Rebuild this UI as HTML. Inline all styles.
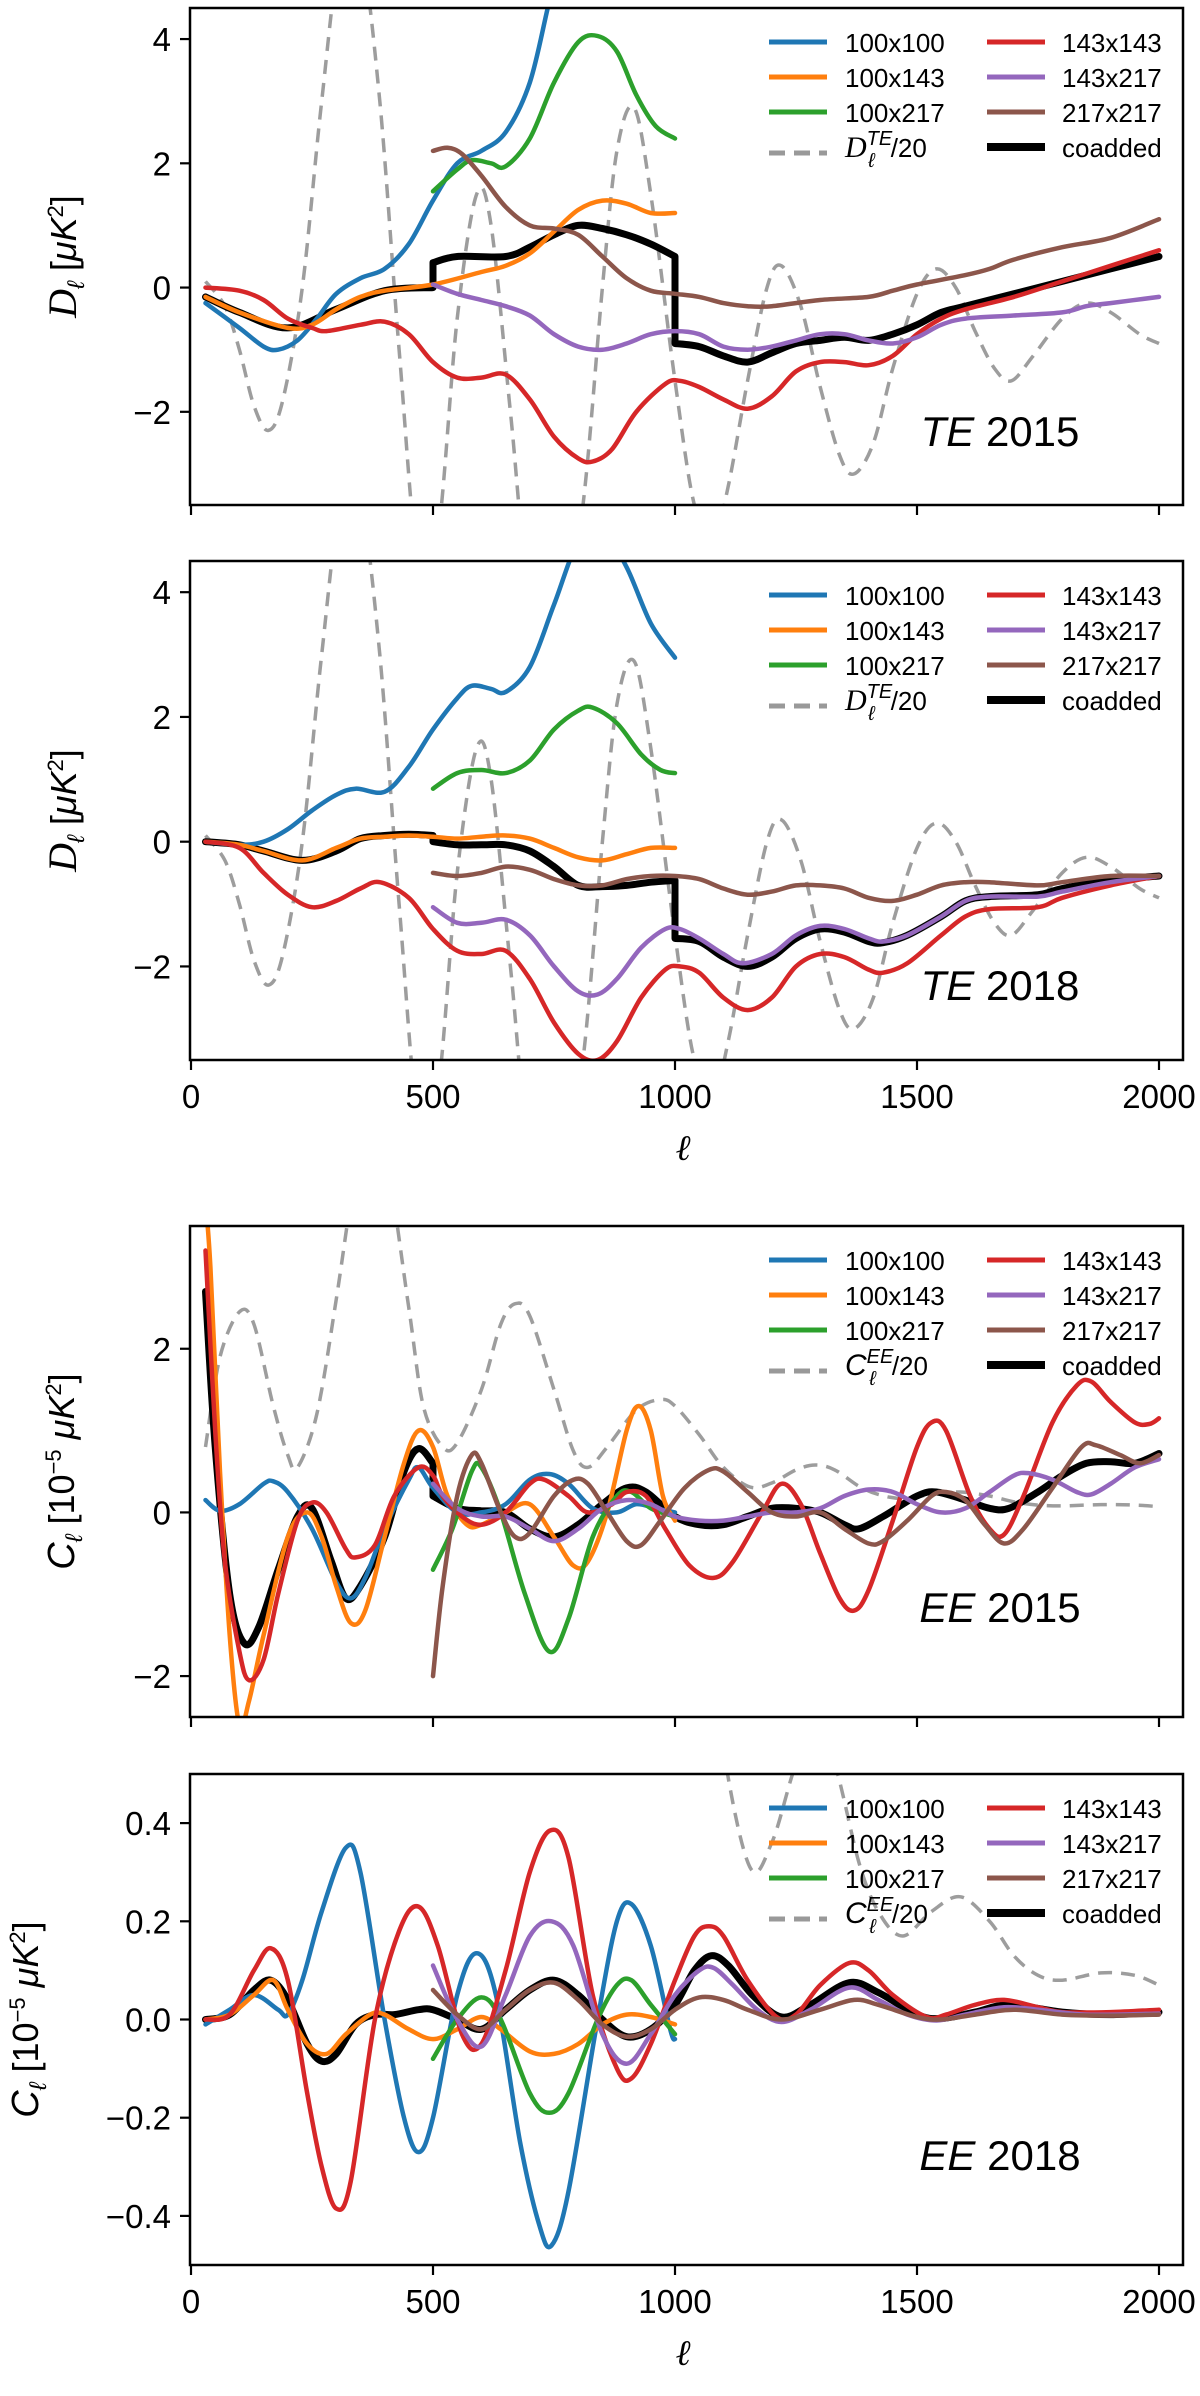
<!DOCTYPE html>
<html><head><meta charset="utf-8"><style>
html,body{margin:0;padding:0;background:#fff;}
svg{display:block;font-family:"Liberation Sans","DejaVu Sans",sans-serif;}
</style></head><body>
<svg id="fig" width="1200" height="2396" viewBox="0 0 1200 2396" xmlns="http://www.w3.org/2000/svg"></svg>
<script>
// ---------- shared theory curves ----------
const teTheoryL=[30,70,100,130,160,190,230,270,310,350,390,430,470,510,550,590,620,660,700,760,810,850,880,915,950,1000,1040,1080,1110,1150,1190,1220,1260,1300,1340,1370,1410,1450,1500,1540,1580,1620,1660,1695,1740,1800,1850,1900,1960,2000];
const teTheoryV=[0.1,-0.3,-1.0,-1.9,-2.3,-1.8,0.0,3.0,5.5,5.5,3.0,-1.0,-4.5,-4.0,-0.5,1.5,1.0,-2.0,-5,-6,-3.5,0.0,2.2,2.9,1.5,-1.5,-3.5,-4,-3.2,-1.5,0.0,0.35,-0.3,-1.6,-2.7,-3.0,-2.5,-1.3,-0.1,0.3,0.0,-0.7,-1.3,-1.5,-1.1,-0.5,-0.25,-0.4,-0.75,-0.9];
const eeTheoryL=[30,60,100,130,170,200,220,260,300,330,365,400,450,480,520,550,600,640,670,700,750,790,820,860,920,970,1000,1050,1100,1155,1200,1250,1290,1330,1380,1420,1470,1530,1590,1650,1700,1750,1800,1880,1950,2000];
const eeTheoryV=[0.8,1.9,2.45,2.3,1.3,0.7,0.55,1.2,2.6,3.8,5.0,4.5,2.5,1.3,0.8,0.85,1.5,2.3,2.55,2.4,1.5,0.75,0.55,0.8,1.25,1.38,1.3,0.95,0.55,0.31,0.36,0.52,0.58,0.52,0.32,0.22,0.17,0.22,0.25,0.2,0.13,0.09,0.08,0.095,0.09,0.07];

// ---------- Panel 1: TE 2015 ----------
const p1BlueL=[30,100,150,180,220,260,300,350,400,450,500,550,600,650,700,740,770];
const p1BlueV=[-0.25,-0.65,-0.95,-1.0,-0.85,-0.5,-0.1,0.15,0.3,0.7,1.4,2.0,2.2,2.5,3.3,4.6,5.5];
const p1OrangeL=[30,100,200,250,300,350,400,500,600,650,700,750,800,850,900,950,1000];
const p1OrangeV=[-0.15,-0.4,-0.65,-0.6,-0.35,-0.15,-0.05,0.05,0.25,0.35,0.55,0.9,1.25,1.4,1.35,1.2,1.2];
const p1GreenL=[500,550,580,620,650,700,750,800,840,880,920,960,1000];
const p1GreenV=[1.55,1.9,2.05,2.0,1.95,2.4,3.3,3.95,4.05,3.8,3.1,2.6,2.4];
const p1RedL=[30,100,150,200,250,280,350,400,450,500,550,600,650,700,750,800,830,870,920,980,1010,1050,1100,1150,1200,1250,1300,1350,1400,1450,1500,1550,1600,1700,1800,1900,2000];
const p1RedV=[0.0,-0.05,-0.2,-0.5,-0.65,-0.7,-0.6,-0.55,-0.75,-1.2,-1.45,-1.45,-1.4,-1.8,-2.4,-2.75,-2.8,-2.6,-2.0,-1.55,-1.5,-1.6,-1.8,-1.95,-1.75,-1.35,-1.2,-1.2,-1.25,-1.1,-0.75,-0.5,-0.35,-0.15,0.1,0.35,0.6];
const p1PurpleL=[500,550,600,650,700,750,800,850,900,950,1000,1050,1100,1150,1200,1250,1300,1350,1400,1450,1500,1550,1600,1700,1800,1850,1900,2000];
const p1PurpleV=[0.05,-0.1,-0.2,-0.3,-0.45,-0.75,-0.95,-1.0,-0.9,-0.75,-0.7,-0.75,-0.95,-1.0,-0.95,-0.85,-0.75,-0.75,-0.85,-0.9,-0.8,-0.6,-0.5,-0.45,-0.4,-0.3,-0.25,-0.15];
const p1BrownL=[500,530,560,600,650,700,750,800,850,900,950,1000,1050,1100,1150,1200,1300,1400,1450,1500,1600,1650,1700,1800,1900,2000];
const p1BrownV=[2.2,2.25,2.15,1.8,1.3,1.0,0.95,0.85,0.5,0.15,-0.05,-0.1,-0.15,-0.25,-0.3,-0.3,-0.2,-0.15,-0.05,0.05,0.2,0.3,0.45,0.65,0.8,1.1];
const p1BlackL=[30,100,200,300,400,500,500,550,650,700,750,800,850,900,950,1000,1000,1050,1100,1150,1200,1250,1300,1350,1400,1450,1500,1550,1600,1700,1800,1900,2000];
const p1BlackV=[-0.15,-0.4,-0.65,-0.35,-0.05,0.0,0.4,0.5,0.5,0.65,0.85,1.0,0.95,0.85,0.7,0.5,-0.9,-0.95,-1.1,-1.2,-1.05,-0.9,-0.85,-0.8,-0.85,-0.75,-0.6,-0.4,-0.3,-0.1,0.1,0.3,0.5];

// ---------- Panel 2: TE 2018 ----------
const p2BlueL=[30,100,150,200,250,300,340,400,450,500,550,580,620,650,700,750,800,850,900,950,1000];
const p2BlueV=[0,-0.05,0.0,0.2,0.5,0.75,0.85,0.8,1.2,1.8,2.3,2.5,2.45,2.4,2.8,3.8,4.8,5.0,4.4,3.5,2.95];
const p2OrangeL=[30,100,150,230,300,350,400,450,500,550,600,650,700,750,800,850,900,950,1000];
const p2OrangeV=[0,-0.05,-0.15,-0.3,-0.1,0.05,0.08,0.1,0.08,0.05,0.08,0.1,0.05,-0.1,-0.25,-0.3,-0.2,-0.1,-0.1];
const p2GreenL=[500,550,600,650,700,750,800,830,880,930,970,1000];
const p2GreenV=[0.85,1.1,1.15,1.1,1.3,1.8,2.1,2.15,1.9,1.4,1.15,1.1];
const p2RedL=[30,100,150,200,250,300,350,390,450,500,550,600,650,700,750,800,840,880,930,980,1010,1050,1100,1150,1200,1250,1300,1350,1400,1430,1480,1550,1600,1650,1750,1800,1900,2000];
const p2RedV=[0,-0.1,-0.5,-0.85,-1.05,-0.95,-0.75,-0.65,-0.9,-1.4,-1.75,-1.8,-1.75,-2.2,-2.9,-3.4,-3.5,-3.2,-2.5,-2.05,-2.0,-2.1,-2.5,-2.7,-2.5,-2.0,-1.8,-1.85,-2.05,-2.1,-1.95,-1.5,-1.2,-1.08,-1.05,-0.9,-0.7,-0.55];
const p2PurpleL=[500,550,600,650,700,750,800,840,880,930,980,1010,1050,1100,1140,1200,1250,1300,1350,1400,1430,1480,1550,1600,1650,1750,1800,1900,2000];
const p2PurpleV=[-1.05,-1.3,-1.3,-1.25,-1.5,-2.0,-2.4,-2.45,-2.2,-1.7,-1.4,-1.4,-1.55,-1.8,-1.95,-1.8,-1.5,-1.35,-1.4,-1.55,-1.6,-1.5,-1.2,-0.95,-0.88,-0.88,-0.8,-0.65,-0.55];
const p2BrownL=[500,550,600,650,700,750,800,850,900,950,1000,1050,1100,1150,1200,1250,1300,1350,1400,1450,1500,1550,1600,1650,1750,1800,1900,2000];
const p2BrownV=[-0.5,-0.55,-0.5,-0.4,-0.45,-0.6,-0.7,-0.7,-0.6,-0.55,-0.55,-0.6,-0.75,-0.85,-0.8,-0.7,-0.7,-0.75,-0.9,-0.95,-0.85,-0.7,-0.65,-0.65,-0.7,-0.65,-0.55,-0.55];
const p2BlackL=[30,100,150,230,300,350,400,450,500,500,550,600,650,700,750,800,850,900,950,1000,1000,1050,1100,1150,1200,1250,1300,1350,1400,1430,1480,1550,1600,1650,1750,1800,1900,2000];
const p2BlackV=[0,-0.05,-0.15,-0.3,-0.15,0.05,0.1,0.12,0.1,0.0,-0.05,-0.05,-0.05,-0.15,-0.4,-0.7,-0.72,-0.7,-0.65,-0.62,-1.55,-1.6,-1.85,-2.0,-1.85,-1.55,-1.4,-1.45,-1.6,-1.62,-1.5,-1.2,-0.95,-0.88,-0.85,-0.75,-0.62,-0.55];

// ---------- Panel 3: EE 2015 ----------
const p3BlueL=[30,60,100,150,170,200,250,300,330,360,400,450,470,500,550,600,650,700,740,780,830,880,920,960,1000];
const p3BlueV=[0.15,0.02,0.1,0.35,0.38,0.25,-0.2,-0.85,-1.05,-0.8,-0.2,0.4,0.55,0.3,0.0,0.0,0.1,0.4,0.47,0.35,0.05,0.0,0.1,0.05,0.0];
const p3OrangeL=[30,40,60,80,100,120,150,200,240,270,300,330,360,400,440,470,500,530,570,600,650,700,750,790,820,860,900,925,950,975,1000];
const p3OrangeV=[3.8,3.0,0.5,-1.5,-2.6,-2.3,-1.5,-0.3,0.0,-0.3,-0.9,-1.35,-1.2,-0.3,0.6,1.0,0.8,0.2,-0.15,-0.15,0.0,0.1,-0.3,-0.65,-0.6,0.0,1.0,1.3,1.0,0.2,-0.1];
const p3GreenL=[500,540,580,600,640,690,740,780,830,880,910,950,1000];
const p3GreenV=[-0.7,-0.2,0.5,0.55,0.0,-1.0,-1.7,-1.3,-0.3,0.2,0.25,0.05,-0.05];
const p3RedL=[30,50,70,100,120,150,180,220,250,280,320,340,380,420,470,500,520,560,600,650,700,730,780,820,870,900,940,980,1030,1080,1120,1180,1220,1260,1300,1340,1370,1400,1450,1500,1530,1560,1610,1650,1680,1720,1780,1830,1860,1900,1950,1980,2000];
const p3RedV=[3.2,1.0,-0.6,-1.7,-2.05,-1.8,-1.0,-0.1,0.12,0.0,-0.45,-0.55,-0.4,0.2,0.55,0.45,0.2,-0.05,-0.15,0.0,0.35,0.4,0.2,0.0,0.1,0.25,0.2,-0.2,-0.65,-0.8,-0.6,0.0,0.35,0.1,-0.5,-1.05,-1.2,-0.95,-0.1,0.8,1.1,1.0,0.2,-0.2,-0.27,0.2,1.1,1.55,1.6,1.35,1.1,1.08,1.15];
const p3PurpleL=[500,550,600,650,700,750,800,850,900,950,1000,1050,1100,1150,1200,1250,1300,1350,1400,1450,1500,1550,1600,1650,1700,1730,1780,1830,1860,1900,1950,2000];
const p3PurpleV=[0.35,0.05,-0.05,-0.05,-0.2,-0.35,-0.2,0.05,0.15,0.1,-0.05,-0.1,-0.1,-0.05,0.0,0.0,0.05,0.2,0.28,0.25,0.1,0.0,0.05,0.25,0.45,0.48,0.4,0.25,0.22,0.35,0.55,0.65];
const p3BrownL=[500,520,550,580,600,640,670,700,750,790,820,860,900,930,970,1020,1070,1100,1150,1200,1250,1300,1350,1400,1430,1480,1530,1560,1600,1640,1680,1720,1780,1840,1870,1920,1960,2000];
const p3BrownV=[-2.0,-0.9,0.2,0.7,0.6,0.0,-0.3,-0.25,0.2,0.4,0.35,0.0,-0.35,-0.4,-0.1,0.3,0.52,0.5,0.25,0.0,-0.05,0.0,-0.2,-0.38,-0.35,-0.1,0.2,0.25,0.15,-0.15,-0.38,-0.2,0.3,0.8,0.82,0.7,0.6,0.7];
const p3BlackL=[30,50,80,110,140,180,220,250,290,320,350,400,440,470,500,500,550,600,650,700,750,800,850,900,940,1000,1050,1100,1150,1200,1250,1300,1350,1380,1430,1500,1540,1600,1650,1690,1750,1800,1850,1900,1950,2000];
const p3BlackV=[2.7,0.8,-1.0,-1.6,-1.4,-0.7,-0.05,0.05,-0.6,-1.05,-0.9,-0.3,0.5,0.78,0.6,0.2,0.05,0.02,0.0,-0.2,-0.3,-0.15,0.1,0.3,0.25,-0.05,-0.15,-0.15,-0.05,0.05,0.05,0.0,-0.15,-0.2,-0.05,0.2,0.25,0.15,0.05,0.05,0.25,0.45,0.6,0.62,0.6,0.72];

// ---------- Panel 4: EE 2018 ----------
const p4BlueL=[30,80,130,180,200,230,270,320,350,400,440,470,500,550,590,630,680,720,745,780,840,880,910,950,990,1000];
const p4BlueV=[-0.01,0.02,0.05,0.02,0.01,0.08,0.22,0.35,0.3,0.0,-0.2,-0.27,-0.2,0.05,0.135,0.05,-0.25,-0.42,-0.46,-0.35,0.0,0.2,0.235,0.15,-0.02,-0.04];
const p4OrangeL=[30,80,130,170,200,240,280,320,370,400,450,500,550,600,640,700,750,800,850,900,950,1000];
const p4OrangeV=[0.0,0.01,0.05,0.08,0.02,-0.05,-0.07,-0.03,0.01,0.01,-0.02,-0.04,-0.02,0.005,-0.02,-0.065,-0.07,-0.05,-0.01,0.01,0.005,-0.01];
const p4GreenL=[500,550,600,640,700,740,780,840,880,910,950,1000];
const p4GreenV=[-0.08,0.0,0.045,0.0,-0.15,-0.19,-0.15,0.0,0.07,0.08,0.03,-0.03];
const p4RedL=[30,80,130,165,200,240,270,300,330,380,430,470,510,560,600,650,700,742,780,830,880,910,950,1000,1040,1070,1100,1150,1210,1250,1300,1360,1400,1450,1520,1560,1620,1680,1750,1800,1900,2000];
const p4RedV=[0.0,0.01,0.1,0.145,0.08,-0.15,-0.3,-0.385,-0.33,0.0,0.18,0.23,0.15,-0.03,-0.05,0.1,0.3,0.385,0.33,0.05,-0.1,-0.12,-0.05,0.08,0.17,0.19,0.17,0.08,0.005,0.01,0.07,0.115,0.1,0.05,0.005,0.01,0.03,0.04,0.025,0.015,0.015,0.02];
const p4PurpleL=[500,550,600,650,700,745,790,850,900,950,1000,1050,1080,1120,1170,1220,1280,1360,1420,1480,1540,1600,1680,1750,1850,2000];
const p4PurpleV=[0.11,0.0,-0.055,0.05,0.17,0.2,0.15,-0.03,-0.09,-0.03,0.05,0.1,0.105,0.07,0.02,-0.005,0.02,0.065,0.04,0.01,-0.002,0.01,0.025,0.02,0.01,0.012];
const p4BrownL=[500,550,600,650,700,750,800,850,900,950,1000,1050,1100,1150,1220,1300,1370,1420,1500,1550,1620,1700,1800,1900,2000];
const p4BrownV=[0.06,0.01,-0.02,0.02,0.06,0.075,0.04,-0.01,-0.035,-0.02,0.02,0.045,0.04,0.02,0.0,0.02,0.04,0.03,0.005,0.0,0.01,0.02,0.01,0.008,0.01];
const p4BlackL=[30,80,130,165,200,240,270,300,340,380,420,470,500,550,600,650,700,750,800,850,900,950,1000,1040,1075,1110,1160,1220,1280,1360,1420,1500,1550,1620,1690,1800,1900,2000];
const p4BlackV=[0.0,0.01,0.06,0.08,0.04,-0.05,-0.085,-0.07,-0.01,0.01,0.01,0.02,0.02,0.0,-0.02,0.02,0.06,0.08,0.05,0.0,-0.035,-0.02,0.03,0.1,0.13,0.11,0.05,0.005,0.03,0.075,0.055,0.01,0.002,0.015,0.03,0.015,0.01,0.015];

const xTicks=[0,500,1000,1500,2000];
const teYTicks=[-2,0,2,4];
const teYLabels=["\u22122","0","2","4"];
const ee15YTicks=[-2,0,2];
const ee15YLabels=["\u22122","0","2"];
const ee18YTicks=[-0.4,-0.2,0.0,0.2,0.4];
const ee18YLabels=["\u22120.4","\u22120.2","0.0","0.2","0.4"];
const seriesNames=["100x100","100x143","100x217","143x143","143x217","217x217","coadded"];

const NS="http://www.w3.org/2000/svg";
const svg=document.getElementById('fig');
const COLORS={b:"#1f77b4",o:"#ff7f0e",g:"#2ca02c",r:"#d62728",p:"#9467bd",n:"#8c564b",k:"#000"};
function mk(tag,attrs,parent){const e=document.createElementNS(NS,tag);for(const k in attrs)e.setAttribute(k,attrs[k]);(parent||svg).appendChild(e);return e;}

const X0=191, XK=(1159-191)/2000;
function xs(l){return X0+l*XK;}

function pathFor(L,V,ys){
  const segs=[];let cur=[];
  for(let i=0;i<L.length;i++){
    if(cur.length&&L[i]===cur[cur.length-1][0]){segs.push(cur);cur=[];}
    cur.push([L[i],V[i]]);
  }
  segs.push(cur);
  let d="";
  segs.forEach((s,si)=>{
    const pts=s.map(p=>[xs(p[0]),ys(p[1])]);
    let sd=(si===0?"M":"L")+pts[0][0].toFixed(1)+","+pts[0][1].toFixed(1);
    for(let i=0;i<pts.length-1;i++){
      const p0=pts[Math.max(0,i-1)],p1=pts[i],p2=pts[i+1],p3=pts[Math.min(pts.length-1,i+2)];
      const c1=[p1[0]+(p2[0]-p0[0])/6,p1[1]+(p2[1]-p0[1])/6];
      const c2=[p2[0]-(p3[0]-p1[0])/6,p2[1]-(p3[1]-p1[1])/6];
      sd+="C"+c1[0].toFixed(1)+","+c1[1].toFixed(1)+" "+c2[0].toFixed(1)+","+c2[1].toFixed(1)+" "+p2[0].toFixed(1)+","+p2[1].toFixed(1);
    }
    d+=sd;
  });
  return d;
}

function panel(cfg){
  const {id,top,bot,ymin,ymax,yticks,ylabels,showX,series,ylabX,ylab,annot,annotY,theoryName}=cfg;
  const g=mk('g',{},svg);
  
  
  const ys=v=>bot-(v-ymin)/(ymax-ymin)*(bot-top);
  const cid='clip-'+id;
  const cp=mk('clipPath',{id:cid},g);mk('rect',{x:X0-1,y:top,width:1183-X0+1,height:bot-top},cp);
  const plot=mk('g',{'clip-path':'url(#'+cid+')'},g);
  
  
  series.forEach(s=>{
    const p=mk('path',{d:pathFor(s.L,s.V,ys),fill:'none',stroke:s.c,'stroke-width':s.w,'stroke-linejoin':'round','stroke-linecap':s.dash?'butt':'round'},plot);
    if(s.dash){p.setAttribute('stroke-dasharray',s.dash);p.setAttribute('opacity','0.85');}
    
    
  });
  const fr=mk('rect',{x:X0-1,y:top,width:1183-X0+1,height:bot-top,fill:'none',stroke:'#000','stroke-width':2.5},g);
  
  
  xTicks.forEach(t=>{
    const tk=mk('line',{x1:xs(t),x2:xs(t),y1:bot,y2:bot+10,stroke:'#000','stroke-width':2.2},g);
    
    
    if(showX){
      const tl=mk('text',{x:xs(t),y:bot+48,'font-size':33,'text-anchor':'middle',fill:'#000'},g);
      tl.textContent=t;
      
      
    }
  });
  if(showX){
    const xl=mk('text',{x:xs(1000)+8,y:bot+100,'font-size':36,'font-style':'italic','text-anchor':'middle',fill:'#000','font-family':'"Liberation Serif",serif'},g);
    xl.textContent='\u2113';
    
    
  }
  yticks.forEach((t,i)=>{
    const tk=mk('line',{x1:X0-11,x2:X0,y1:ys(t),y2:ys(t),stroke:'#000','stroke-width':2.2},g);
    
    
    const tl=mk('text',{x:X0-20,y:ys(t)+12,'font-size':33,'text-anchor':'end',fill:'#000'},g);
    tl.textContent=ylabels[i];
    
    
  });
  const cy=(top+bot)/2;
  const yl=mk('text',{x:ylabX,y:cy,'font-size':36,'text-anchor':'middle',fill:'#000',transform:'rotate(-90 '+ylabX+' '+cy+')'},g);
  yl.innerHTML=ylab;
  
  
  const an=mk('text',{x:1000,y:annotY,'font-size':42,'text-anchor':'middle',fill:'#000'},g);
  an.innerHTML='<tspan font-style="italic">'+annot[0]+'</tspan> '+annot[1];
  
  
  const lg=mk('g',{},g);
  
  
  const rows=[34,69,104,139];
  const entries=[
    {n:seriesNames[0],c:COLORS.b,col:0,row:0},{n:seriesNames[1],c:COLORS.o,col:0,row:1},{n:seriesNames[2],c:COLORS.g,col:0,row:2},{n:theoryName,c:'#999',col:0,row:3,dash:true},
    {n:seriesNames[3],c:COLORS.r,col:1,row:0},{n:seriesNames[4],c:COLORS.p,col:1,row:1},{n:seriesNames[5],c:COLORS.n,col:1,row:2},{n:seriesNames[6],c:'#000',col:1,row:3,thick:true}];
  entries.forEach(e=>{
    const lx=e.col?987:769, tx=e.col?1062:845, yy=top+rows[e.row];
    const ln=mk('line',{x1:lx,x2:lx+58,y1:yy+(e.dash?6:0),y2:yy+(e.dash?6:0),stroke:e.c,'stroke-width':e.thick?8:5},lg);
    if(e.dash)ln.setAttribute('stroke-dasharray','16,9');
    
    
    const tt=mk('text',{x:tx,y:yy+10,'font-size':26,fill:'#000'},lg);
    tt.innerHTML=e.n;
    
    
  });
}

const teTh='<tspan font-style="italic" font-family="Liberation Serif,serif" font-size="30">D</tspan><tspan font-style="italic" font-size="20" dy="-12">TE</tspan><tspan font-style="italic" font-size="20" dx="-24" dy="22">\u2113</tspan><tspan dx="16" dy="-10">/20</tspan>';
const eeTh='<tspan font-style="italic" font-size="30">C</tspan><tspan font-style="italic" font-size="20" dy="-12">EE</tspan><tspan font-style="italic" font-size="20" dx="-24" dy="22">\u2113</tspan><tspan dx="16" dy="-10">/20</tspan>';
const teYlab='<tspan font-style="italic" font-family="Liberation Serif,serif" font-size="40">D</tspan><tspan font-size="24" font-style="italic" dy="8">\u2113</tspan><tspan dy="-8">  [</tspan><tspan font-style="italic">\u03bcK</tspan><tspan font-size="22" dy="-13">2</tspan><tspan dy="13">]</tspan>';
const eeYlab='<tspan font-style="italic" font-size="38">C</tspan><tspan font-size="24" font-style="italic" dy="8">\u2113</tspan><tspan dy="-8">  [10</tspan><tspan font-size="22" dy="-13">\u22125</tspan><tspan dy="13"> </tspan><tspan font-style="italic">\u03bcK</tspan><tspan font-size="22" dy="-13">2</tspan><tspan dy="13">]</tspan>';

function S(name,L,V,c,w,dash){return {name,L,V,c,w,dash};}
panel({id:'te2015',top:8,bot:505,ymin:-3.5,ymax:4.5,yticks:teYTicks,ylabels:teYLabels,showX:false,ylabX:76,ylab:teYlab,annot:['TE','2015'],annotY:446,theoryName:teTh,
 series:[S('theory',teTheoryL,teTheoryV,'#8c8c8c',3.5,'14,9'),S('coadded',p1BlackL,p1BlackV,'#000',7),S('100x100',p1BlueL,p1BlueV,COLORS.b,4.5),S('100x143',p1OrangeL,p1OrangeV,COLORS.o,4.5),S('100x217',p1GreenL,p1GreenV,COLORS.g,4.5),S('143x143',p1RedL,p1RedV,COLORS.r,4.5),S('143x217',p1PurpleL,p1PurpleV,COLORS.p,4.5),S('217x217',p1BrownL,p1BrownV,COLORS.n,4.5)]});
panel({id:'te2018',top:561,bot:1060,ymin:-3.5,ymax:4.5,yticks:teYTicks,ylabels:teYLabels,showX:true,ylabX:76,ylab:teYlab,annot:['TE','2018'],annotY:1000,theoryName:teTh,
 series:[S('theory',teTheoryL,teTheoryV,'#8c8c8c',3.5,'14,9'),S('coadded',p2BlackL,p2BlackV,'#000',7),S('100x100',p2BlueL,p2BlueV,COLORS.b,4.5),S('100x143',p2OrangeL,p2OrangeV,COLORS.o,4.5),S('100x217',p2GreenL,p2GreenV,COLORS.g,4.5),S('143x143',p2RedL,p2RedV,COLORS.r,4.5),S('143x217',p2PurpleL,p2PurpleV,COLORS.p,4.5),S('217x217',p2BrownL,p2BrownV,COLORS.n,4.5)]});
panel({id:'ee2015',top:1226,bot:1717,ymin:-2.5,ymax:3.5,yticks:ee15YTicks,ylabels:ee15YLabels,showX:false,ylabX:74,ylab:eeYlab,annot:['EE','2015'],annotY:1622,theoryName:eeTh,
 series:[S('theory',eeTheoryL,eeTheoryV,'#8c8c8c',3.5,'14,9'),S('coadded',p3BlackL,p3BlackV,'#000',7),S('100x100',p3BlueL,p3BlueV,COLORS.b,4.5),S('100x143',p3OrangeL,p3OrangeV,COLORS.o,4.5),S('100x217',p3GreenL,p3GreenV,COLORS.g,4.5),S('143x143',p3RedL,p3RedV,COLORS.r,4.5),S('143x217',p3PurpleL,p3PurpleV,COLORS.p,4.5),S('217x217',p3BrownL,p3BrownV,COLORS.n,4.5)]});
panel({id:'ee2018',top:1774,bot:2265,ymin:-0.5,ymax:0.5,yticks:ee18YTicks,ylabels:ee18YLabels,showX:true,ylabX:38,ylab:eeYlab,annot:['EE','2018'],annotY:2170,theoryName:eeTh,
 series:[S('theory',eeTheoryL,eeTheoryV,'#8c8c8c',3.5,'14,9'),S('coadded',p4BlackL,p4BlackV,'#000',7),S('100x100',p4BlueL,p4BlueV,COLORS.b,4.5),S('100x143',p4OrangeL,p4OrangeV,COLORS.o,4.5),S('100x217',p4GreenL,p4GreenV,COLORS.g,4.5),S('143x143',p4RedL,p4RedV,COLORS.r,4.5),S('143x217',p4PurpleL,p4PurpleV,COLORS.p,4.5),S('217x217',p4BrownL,p4BrownV,COLORS.n,4.5)]});
</script>
</body></html>
